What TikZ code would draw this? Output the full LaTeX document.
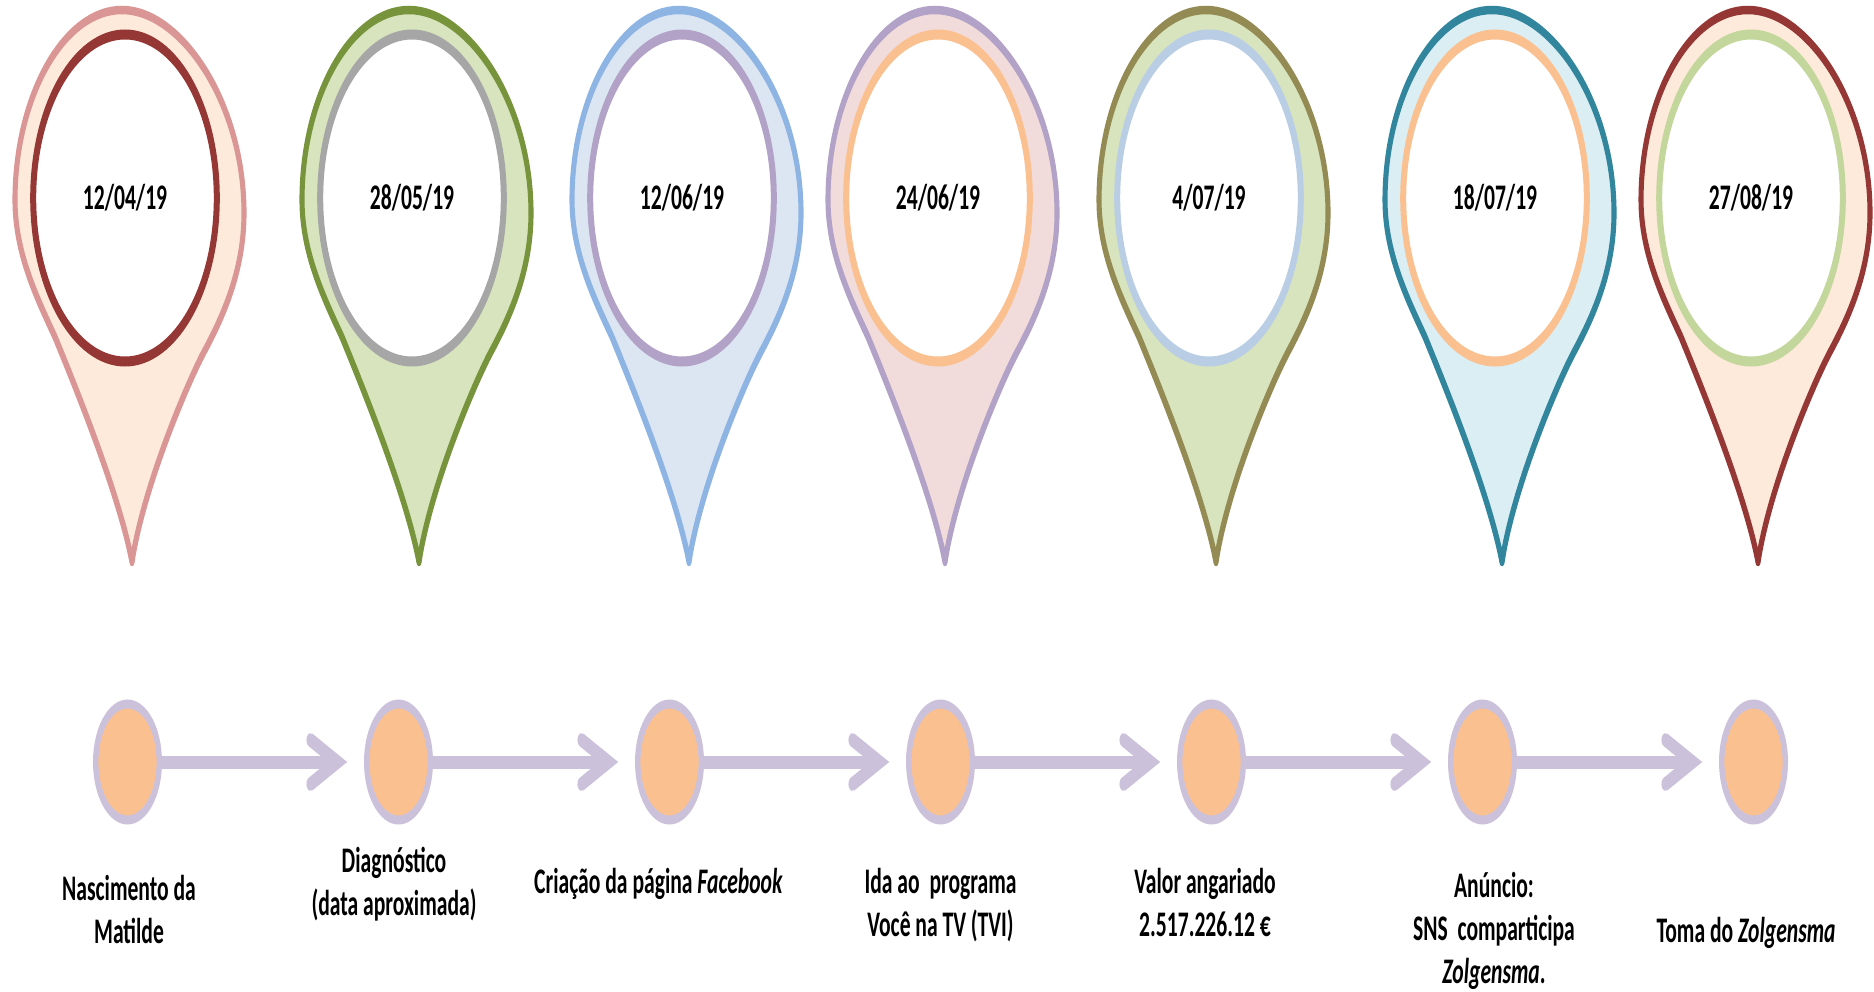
\documentclass[tikz,border=0pt]{standalone}
\usepackage{fontspec}
\setmainfont{Carlito}
\usetikzlibrary{arrows.meta,shapes.geometric}
\definecolor{dotfill}{HTML}{FAC090}
\definecolor{dotline}{HTML}{CCC1DA}
\definecolor{oA}{HTML}{D99694}\definecolor{fA}{HTML}{FDEADA}\definecolor{iA}{HTML}{953735}
\definecolor{oB}{HTML}{77933C}\definecolor{fB}{HTML}{D7E4BD}\definecolor{iB}{HTML}{A6A6A6}
\definecolor{oC}{HTML}{8EB4E3}\definecolor{fC}{HTML}{DCE6F2}\definecolor{iC}{HTML}{B3A2C7}
\definecolor{oD}{HTML}{B3A2C7}\definecolor{fD}{HTML}{F2DCDB}\definecolor{iD}{HTML}{FAC090}
\definecolor{oE}{HTML}{948A54}\definecolor{fE}{HTML}{D7E4BD}\definecolor{iE}{HTML}{B9CDE5}
\definecolor{oF}{HTML}{31859C}\definecolor{fF}{HTML}{DBEEF4}\definecolor{iF}{HTML}{FAC090}
\definecolor{oG}{HTML}{953735}\definecolor{fG}{HTML}{FDEADA}\definecolor{iG}{HTML}{C3D69B}
\tikzset{
  pics/mappin/.style n args={2}{code={
    \path[draw=#1, fill=#2, line width=8.5pt, line join=round]
      (7,364) .. controls (-5,300) and (-45,200) .. (-70,139)
      .. controls (-88,100) and (-110,55) .. (-110,2)
      .. controls (-110,-100) and (-62,-188) .. (-3,-188)
      .. controls (56,-188) and (119,-95) .. (119,15)
      .. controls (119,70) and (100,115) .. (79,154)
      .. controls (62,186) and (18,290) .. (7,364) -- cycle;
  }},
  ring/.style={ellipse, fill=white, line width=10pt, minimum width=306pt,
    minimum height=327pt, inner sep=0pt, text=black,
    font=\fontsize{36}{43}\selectfont\bfseries},
  dotn/.style={ellipse, draw=dotline, fill=dotfill, line width=9pt,
    minimum width=106pt, minimum height=116pt, inner sep=0pt},
  conn/.style={draw=dotline, line width=13pt,
    -{Straight Barb[length=45pt, width=44pt, line width=14pt, line cap=round, line join=miter]}},
  lab/.style={align=center, inner sep=0pt, text=black,
    font=\fontsize{36}{43}\selectfont\bfseries}
}
\begin{document}
\begin{tikzpicture}
\path[use as bounding box, fill=white] (0pt,0pt) rectangle (1874pt,-992pt);
\begin{scope}[transform canvas={xscale=0.6}, x=1.666667pt, y=-1pt]
  % pins
  \pic at (125,198) {mappin={oA}{fA}};
  \node[ring, draw=iA] (p1) at (125,198) {12/04/19};
  \pic at (412,198) {mappin={oB}{fB}};
  \node[ring, draw=iB] (p2) at (412,198) {28/05/19};
  \pic at (682,198) {mappin={oC}{fC}};
  \node[ring, draw=iC] (p3) at (682,198) {12/06/19};
  \pic at (938,198) {mappin={oD}{fD}};
  \node[ring, draw=iD] (p4) at (938,198) {24/06/19};
  \pic at (1209,198) {mappin={oE}{fE}};
  \node[ring, draw=iE] (p5) at (1209,198) {4/07/19};
  \pic at (1495,198) {mappin={oF}{fF}};
  \node[ring, draw=iF] (p6) at (1495,198) {18/07/19};
  \pic at (1751,198) {mappin={oG}{fG}};
  \node[ring, draw=iG] (p7) at (1751,198) {27/08/19};
  % timeline dots
  \node[dotn] (d1) at (127.5,762) {};
  \node[dotn] (d2) at (398.5,762) {};
  \node[dotn] (d3) at (669.5,762) {};
  \node[dotn] (d4) at (940.5,762) {};
  \node[dotn] (d5) at (1211.5,762) {};
  \node[dotn] (d6) at (1482.5,762) {};
  \node[dotn] (d7) at (1753.5,762) {};
  \draw[conn] (d1.east) -- ([xshift=-28pt]d2.west);
  \draw[conn] (d2.east) -- ([xshift=-28pt]d3.west);
  \draw[conn] (d3.east) -- ([xshift=-28pt]d4.west);
  \draw[conn] (d4.east) -- ([xshift=-28pt]d5.west);
  \draw[conn] (d5.east) -- ([xshift=-28pt]d6.west);
  \draw[conn] (d6.east) -- ([xshift=-28pt]d7.west);
  % labels
  \node[lab] (t1) at (129,909) {Nascimento da\\Matilde};
  \node[lab] (t2) at (394,884) {Diagnóstico\\(data aproximada)};
  \node[lab] (t3) at (658.5,884) {Criação da página \textit{Facebook}};
  \node[lab] (t4) at (940.5,905) {Ida ao\ \ programa\\Você na TV (TVI)};
  \node[lab] (t5) at (1205,902) {Valor angariado\\2.517.226.12 €};
  \node[lab] (t6) at (1494,931) {Anúncio:\\SNS\ \ comparticipa\\\textit{Zolgensma}.};
  \node[lab] (t7) at (1746,933) {Toma do \textit{Zolgensma}};
\end{scope}
\end{tikzpicture}
\end{document}
